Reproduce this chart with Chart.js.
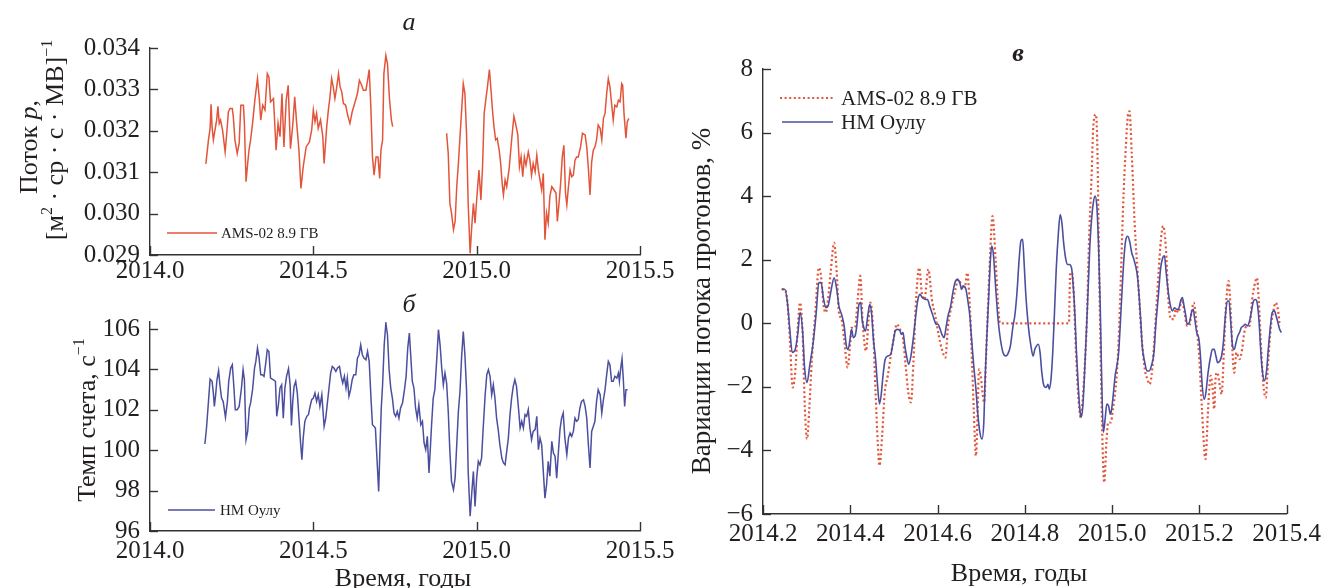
<!DOCTYPE html>
<html>
<head>
<meta charset="utf-8">
<script src="https://cdn.jsdelivr.net/npm/chart.js@4.4.1/dist/chart.umd.min.js"></script>
<style>
  body { margin: 0; background: #fff; width: 1326px; height: 588px; position: relative; overflow: hidden; }
  canvas { position: absolute; }
  #chartA { left: 0; top: 0; }
  #chartB { left: 0; top: 290px; }
  #chartC { left: 680px; top: 0; }
</style>
</head>
<body>
<canvas id="chartA" width="680" height="290"></canvas>
<canvas id="chartB" width="680" height="298"></canvas>
<canvas id="chartC" width="646" height="588"></canvas>
<script>
// tick labels
const yearTicksLeft = [2014.0, 2014.5, 2015.0, 2015.5];
const fluxTicks = [0.029, 0.030, 0.031, 0.032, 0.033, 0.034];
const rateTicks = [96, 98, 100, 102, 104, 106];
const yearTicksRight = [2014.2, 2014.4, 2014.6, 2014.8, 2015.0, 2015.2, 2015.4];
const variationTicks = [-6, -4, -2, 0, 2, 4, 6, 8];

// а: AMS-02 8.9 ГВ proton flux (null = no data)
const fluxYears = [
  2014.171, 2014.179, 2014.184, 2014.187, 2014.190, 2014.194, 2014.199, 2014.204, 2014.208, 2014.212,
  2014.216, 2014.222, 2014.230, 2014.235, 2014.240, 2014.245, 2014.252, 2014.255, 2014.260, 2014.267,
  2014.273, 2014.278, 2014.286, 2014.289, 2014.294, 2014.299, 2014.303, 2014.308, 2014.314, 2014.321,
  2014.329, 2014.335, 2014.339, 2014.345, 2014.352, 2014.359, 2014.364, 2014.369, 2014.378, 2014.386,
  2014.392, 2014.398, 2014.404, 2014.410, 2014.417, 2014.423, 2014.430, 2014.437, 2014.443, 2014.449,
  2014.456, 2014.462, 2014.469, 2014.478, 2014.488, 2014.495, 2014.500, 2014.505, 2014.510, 2014.515,
  2014.522, 2014.529, 2014.533, 2014.541, 2014.546, 2014.551, 2014.556, 2014.561, 2014.566, 2014.571,
  2014.577, 2014.582, 2014.587, 2014.592, 2014.599, 2014.605, 2014.612, 2014.619, 2014.628, 2014.635,
  2014.641, 2014.648, 2014.653, 2014.661, 2014.666, 2014.671, 2014.676, 2014.681, 2014.686, 2014.692,
  2014.698, 2014.703, 2014.707, 2014.712, 2014.716, 2014.722, 2014.727, 2014.733, 2014.739, 2014.743,
  2014.830,
  2014.908, 2014.913, 2014.918, 2014.923, 2014.929, 2014.934, 2014.939, 2014.944, 2014.949, 2014.954,
  2014.959, 2014.964, 2014.969, 2014.974, 2014.980, 2014.985, 2014.990, 2014.995, 2015.000, 2015.007,
  2015.013, 2015.018, 2015.023, 2015.029, 2015.033, 2015.039, 2015.044, 2015.048, 2015.053, 2015.058,
  2015.063, 2015.069, 2015.073, 2015.079, 2015.082, 2015.087, 2015.092, 2015.100, 2015.107, 2015.114,
  2015.119, 2015.126, 2015.131, 2015.136, 2015.141, 2015.146, 2015.151, 2015.158, 2015.163, 2015.168,
  2015.173, 2015.179, 2015.184, 2015.189, 2015.194, 2015.199, 2015.204, 2015.209, 2015.214, 2015.219,
  2015.224, 2015.230, 2015.237, 2015.243, 2015.247, 2015.253, 2015.257, 2015.262, 2015.267, 2015.272,
  2015.276, 2015.281, 2015.286, 2015.291, 2015.296, 2015.301, 2015.306, 2015.311, 2015.318, 2015.324,
  2015.332, 2015.337, 2015.342, 2015.347, 2015.352, 2015.357, 2015.362, 2015.367, 2015.372, 2015.378,
  2015.383, 2015.388, 2015.393, 2015.398, 2015.403, 2015.408, 2015.413, 2015.418, 2015.423, 2015.429,
  2015.434, 2015.439, 2015.444, 2015.447, 2015.451, 2015.457, 2015.461, 2015.466
];
const fluxAms = [
  0.03120, 0.03178, 0.03206, 0.03264, 0.03210, 0.03178, 0.03202, 0.03226, 0.03259, 0.03218,
  0.03226, 0.03202, 0.03149, 0.03194, 0.03246, 0.03254, 0.03254, 0.03234, 0.03178, 0.03145,
  0.03170, 0.03262, 0.03262, 0.03218, 0.03077, 0.03121, 0.03153, 0.03178, 0.03218, 0.03274,
  0.03326, 0.03274, 0.03226, 0.03262, 0.03250, 0.03338, 0.03330, 0.03270, 0.03278, 0.03153,
  0.03218, 0.03186, 0.03290, 0.03161, 0.03274, 0.03310, 0.03157, 0.03214, 0.03282, 0.03218,
  0.03153, 0.03061, 0.03113, 0.03161, 0.03173, 0.03202, 0.03250, 0.03222, 0.03242, 0.03206,
  0.03226, 0.03186, 0.03121, 0.03210, 0.03250, 0.03282, 0.03326, 0.03306, 0.03278, 0.03302,
  0.03338, 0.03306, 0.03294, 0.03266, 0.03262, 0.03238, 0.03218, 0.03246, 0.03270, 0.03290,
  0.03322, 0.03310, 0.03298, 0.03298, 0.03322, 0.03348, 0.03258, 0.03137, 0.03093, 0.03137,
  0.03137, 0.03085, 0.03153, 0.03178, 0.03338, 0.03382, 0.03362, 0.03278, 0.03226, 0.03210,
  null,
  0.03194, 0.03145, 0.03025, 0.03001, 0.02961, 0.02981, 0.03065, 0.03121, 0.03186, 0.03250,
  0.03314, 0.03290, 0.03194, 0.03025, 0.02904, 0.02969, 0.03025, 0.02977, 0.03033, 0.03105,
  0.03033, 0.03113, 0.03242, 0.03282, 0.03306, 0.03348, 0.03298, 0.03254, 0.03210, 0.03178,
  0.03182, 0.03153, 0.03125, 0.03065, 0.03045, 0.03081, 0.03065, 0.03113, 0.03178, 0.03235,
  0.03218, 0.03190, 0.03113, 0.03137, 0.03089, 0.03137, 0.03117, 0.03149, 0.03129, 0.03093,
  0.03121, 0.03101, 0.03141, 0.03105, 0.03081, 0.03057, 0.03097, 0.02937, 0.03001, 0.02977,
  0.03041, 0.03065, 0.03057, 0.03049, 0.02981, 0.03033, 0.03073, 0.03137, 0.03165, 0.03049,
  0.03021, 0.03065, 0.03105, 0.03089, 0.03093, 0.03129, 0.03137, 0.03137, 0.03161, 0.03194,
  0.03190, 0.03161, 0.03109, 0.03045, 0.03125, 0.03153, 0.03161, 0.03178, 0.03214, 0.03206,
  0.03178, 0.03230, 0.03242, 0.03290, 0.03326, 0.03306, 0.03266, 0.03226, 0.03262, 0.03258,
  0.03274, 0.03270, 0.03314, 0.03310, 0.03242, 0.03182, 0.03222, 0.03230
];

// б: НМ Оулу count rate, 1/s
const rateYears = [
  2014.168, 2014.173, 2014.179, 2014.184, 2014.190, 2014.194, 2014.197, 2014.201, 2014.205, 2014.210,
  2014.214, 2014.219, 2014.224, 2014.231, 2014.237, 2014.241, 2014.247, 2014.252, 2014.257, 2014.261,
  2014.267, 2014.273, 2014.280, 2014.285, 2014.289, 2014.294, 2014.299, 2014.304, 2014.308, 2014.314,
  2014.320, 2014.324, 2014.329, 2014.334, 2014.339, 2014.344, 2014.349, 2014.355, 2014.359, 2014.364,
  2014.369, 2014.378, 2014.384, 2014.388, 2014.393, 2014.398, 2014.403, 2014.408, 2014.413, 2014.418,
  2014.424, 2014.429, 2014.433, 2014.437, 2014.441, 2014.446, 2014.451, 2014.456, 2014.461, 2014.465,
  2014.469, 2014.474, 2014.480, 2014.485, 2014.490, 2014.495, 2014.500, 2014.505, 2014.510, 2014.515,
  2014.520, 2014.526, 2014.533, 2014.538, 2014.543, 2014.548, 2014.553, 2014.558, 2014.563, 2014.569,
  2014.574, 2014.580, 2014.585, 2014.590, 2014.595, 2014.600, 2014.604, 2014.609, 2014.614, 2014.619,
  2014.624, 2014.630, 2014.635, 2014.640, 2014.645, 2014.650, 2014.655, 2014.661, 2014.666, 2014.671,
  2014.677, 2014.681, 2014.686, 2014.690, 2014.695, 2014.700, 2014.704, 2014.708, 2014.712, 2014.717,
  2014.722, 2014.727, 2014.732, 2014.737, 2014.742, 2014.747, 2014.752, 2014.757, 2014.762, 2014.767,
  2014.773, 2014.779, 2014.784, 2014.789, 2014.794, 2014.798, 2014.803, 2014.808, 2014.813, 2014.818,
  2014.823, 2014.829, 2014.834, 2014.839, 2014.844, 2014.849, 2014.854, 2014.858, 2014.862, 2014.867,
  2014.872, 2014.878, 2014.883, 2014.888, 2014.893, 2014.898, 2014.903, 2014.908, 2014.913, 2014.918,
  2014.923, 2014.929, 2014.934, 2014.939, 2014.944, 2014.949, 2014.954, 2014.959, 2014.964, 2014.969,
  2014.974, 2014.980, 2014.985, 2014.990, 2014.995, 2015.000, 2015.005, 2015.010, 2015.015, 2015.020,
  2015.026, 2015.031, 2015.036, 2015.041, 2015.046, 2015.051, 2015.056, 2015.061, 2015.066, 2015.071,
  2015.077, 2015.082, 2015.087, 2015.092, 2015.097, 2015.102, 2015.107, 2015.112, 2015.117, 2015.122,
  2015.128, 2015.133, 2015.138, 2015.143, 2015.148, 2015.153, 2015.158, 2015.163, 2015.168, 2015.173,
  2015.179, 2015.184, 2015.189, 2015.194, 2015.199, 2015.204, 2015.209, 2015.214, 2015.219, 2015.224,
  2015.230, 2015.235, 2015.240, 2015.245, 2015.250, 2015.255, 2015.260, 2015.265, 2015.270, 2015.276,
  2015.281, 2015.286, 2015.291, 2015.296, 2015.301, 2015.306, 2015.311, 2015.316, 2015.321, 2015.327,
  2015.332, 2015.337, 2015.342, 2015.347, 2015.352, 2015.357, 2015.362, 2015.367, 2015.372, 2015.378,
  2015.383, 2015.388, 2015.393, 2015.398, 2015.403, 2015.408, 2015.413, 2015.418, 2015.423, 2015.429,
  2015.434, 2015.437, 2015.441, 2015.445, 2015.449, 2015.453, 2015.457, 2015.462
];
const rateOulu = [
  100.31, 101.10, 102.42, 103.52, 103.41, 102.83, 102.17, 102.75, 103.49, 103.94,
  103.24, 102.58, 102.42, 101.63, 102.42, 103.41, 104.07, 104.23, 103.08, 102.01,
  102.01, 102.17, 103.08, 103.99, 103.49, 100.52, 100.93, 102.09, 102.34, 103.00,
  104.07, 104.40, 105.06, 104.56, 103.74, 103.74, 103.66, 104.40, 104.98, 104.89,
  103.57, 103.49, 103.41, 101.68, 102.25, 103.08, 103.24, 101.59, 103.08, 103.66,
  104.04, 103.24, 101.23, 102.42, 103.16, 103.41, 102.83, 101.59, 100.36, 99.53,
  100.60, 101.43, 101.68, 101.76, 102.17, 102.50, 102.58, 102.83, 102.42, 102.75,
  102.17, 102.75, 101.18, 101.59, 102.34, 103.08, 103.82, 104.15, 104.07, 103.90,
  104.07, 104.15, 103.66, 103.33, 103.66, 103.08, 103.57, 102.67, 103.00, 103.49,
  103.74, 103.74, 104.56, 104.73, 105.22, 104.73, 104.56, 104.48, 104.89, 104.40,
  102.42, 101.26, 101.18, 101.10, 99.53, 97.96, 100.11, 102.09, 103.24, 105.22,
  106.30, 105.72, 103.99, 103.08, 102.58, 101.84, 101.68, 101.92, 101.59, 102.09,
  102.34, 103.00, 103.66, 105.06, 105.80, 104.73, 103.41, 103.08, 102.09, 101.59,
  102.25, 101.26, 101.43, 100.36, 100.03, 100.69, 98.87, 100.03, 101.26, 102.58,
  103.00, 104.56, 105.97, 105.22, 104.07, 103.24, 103.82, 103.33, 101.92, 99.94,
  98.46, 98.05, 98.62, 100.27, 101.92, 102.91, 104.65, 105.88, 104.73, 103.00,
  98.95, 96.73, 97.88, 98.95, 97.22, 98.62, 99.45, 99.28, 99.61, 101.10,
  102.75, 103.74, 103.99, 103.66, 102.75, 103.24, 102.58, 101.59, 101.02, 100.27,
  99.61, 99.37, 99.28, 99.94, 100.60, 101.76, 102.58, 103.16, 103.49, 103.16,
  102.09, 101.10, 101.43, 101.10, 101.76, 101.68, 102.01, 101.10, 100.52, 100.93,
  101.02, 101.68, 100.03, 100.60, 100.27, 98.95, 97.63, 98.29, 99.45, 98.71,
  100.44, 99.86, 99.70, 98.62, 99.86, 101.02, 101.59, 101.84, 100.60, 99.78,
  100.60, 100.85, 100.69, 100.93, 101.59, 101.43, 101.51, 102.09, 102.42, 102.50,
  102.17, 101.59, 100.27, 99.12, 100.93, 101.18, 101.43, 102.42, 103.00, 102.75,
  101.84, 102.50, 103.00, 103.74, 104.40, 104.23, 103.41, 103.41, 103.66, 103.57,
  103.82, 103.41, 104.07, 104.53, 103.49, 102.17, 103.00, 103.00
];

// в: variations of proton flux, %
const varYearsOulu = [
  2014.243, 2014.250, 2014.256, 2014.262, 2014.267, 2014.274, 2014.280, 2014.285, 2014.291, 2014.295,
  2014.301, 2014.307, 2014.315, 2014.322, 2014.328, 2014.333, 2014.339, 2014.344, 2014.349, 2014.355,
  2014.363, 2014.369, 2014.374, 2014.380, 2014.386, 2014.391, 2014.395, 2014.400, 2014.403, 2014.407,
  2014.411, 2014.415, 2014.420, 2014.424, 2014.427, 2014.431, 2014.435, 2014.440, 2014.445, 2014.449,
  2014.453, 2014.458, 2014.462, 2014.467, 2014.471, 2014.475, 2014.480, 2014.486, 2014.493, 2014.498,
  2014.503, 2014.508, 2014.514, 2014.517, 2014.521, 2014.525, 2014.529, 2014.534, 2014.539, 2014.545,
  2014.550, 2014.555, 2014.560, 2014.565, 2014.572, 2014.577, 2014.582, 2014.587, 2014.592, 2014.597,
  2014.601, 2014.606, 2014.610, 2014.615, 2014.620, 2014.624, 2014.630, 2014.635, 2014.640, 2014.645,
  2014.651, 2014.655, 2014.660, 2014.665, 2014.669, 2014.674, 2014.678, 2014.683, 2014.688, 2014.692,
  2014.697, 2014.702, 2014.706, 2014.709, 2014.713, 2014.717, 2014.720, 2014.724, 2014.728, 2014.733,
  2014.738, 2014.743, 2014.750, 2014.756, 2014.761, 2014.767, 2014.773, 2014.777, 2014.782, 2014.787,
  2014.791, 2014.795, 2014.798, 2014.802, 2014.808, 2014.814, 2014.819, 2014.823, 2014.827, 2014.831,
  2014.835, 2014.839, 2014.844, 2014.849, 2014.853, 2014.856, 2014.860, 2014.864, 2014.868, 2014.872,
  2014.877, 2014.881, 2014.885, 2014.889, 2014.894, 2014.898, 2014.902, 2014.907, 2014.911, 2014.915,
  2014.918, 2014.922, 2014.926, 2014.929, 2014.933, 2014.937, 2014.942, 2014.946, 2014.949, 2014.953,
  2014.957, 2014.961, 2014.965, 2014.969, 2014.973, 2014.976, 2014.980, 2014.984, 2014.988, 2014.992,
  2014.996, 2014.999, 2015.004, 2015.007, 2015.011, 2015.015, 2015.019, 2015.023, 2015.027, 2015.031,
  2015.036, 2015.041, 2015.045, 2015.050, 2015.054, 2015.058, 2015.062, 2015.066, 2015.069, 2015.075,
  2015.080, 2015.085, 2015.090, 2015.096, 2015.100, 2015.106, 2015.111, 2015.116, 2015.120, 2015.124,
  2015.129, 2015.134, 2015.138, 2015.143, 2015.148, 2015.152, 2015.157, 2015.161, 2015.165, 2015.169,
  2015.172, 2015.177, 2015.182, 2015.186, 2015.189, 2015.194, 2015.199, 2015.203, 2015.206, 2015.211,
  2015.215, 2015.220, 2015.226, 2015.230, 2015.234, 2015.238, 2015.242, 2015.247, 2015.251, 2015.255,
  2015.259, 2015.264, 2015.268, 2015.272, 2015.276, 2015.280, 2015.284, 2015.288, 2015.292, 2015.296,
  2015.301, 2015.305, 2015.310, 2015.315, 2015.319, 2015.324, 2015.329, 2015.333, 2015.337, 2015.340,
  2015.344, 2015.349, 2015.354, 2015.358, 2015.363, 2015.367, 2015.372, 2015.376, 2015.380, 2015.384,
  2015.388
];
const varOulu = [
  1.07, 1.07, 0.65, -0.29, -0.92, -0.82, -0.29, 0.34, -0.29, -1.34,
  -1.86, -1.34, -0.61, 0.34, 1.28, 1.28, 0.75, 0.49, 0.54, 0.96,
  1.43, 1.07, 0.54, 0.28, -0.08, -0.71, -0.82, -0.45, -0.19, -0.45,
  -0.40, -0.08, 0.60, 0.65, 0.13, -0.14, -0.24, 0.23, 0.60, 0.28,
  -0.50, -1.13, -1.86, -2.54, -2.23, -1.65, -1.13, -1.03, -0.97, -0.61,
  -0.24, -0.19, -0.24, -0.35, -0.29, -0.71, -1.03, -1.29, -1.03, -0.40,
  0.23, 0.75, 0.91, 0.81, 0.75, 0.75, 0.54, 0.34, 0.13, -0.03,
  -0.03, -0.19, -0.35, -0.45, -0.08, 0.23, 0.54, 0.96, 1.28, 1.38,
  1.28, 1.07, 1.17, 1.07, 0.75, 0.23, -0.50, -1.34, -2.07, -2.81,
  -3.43, -3.64, -3.12, -1.76, -0.40, 0.75, 1.70, 2.43, 2.17, 1.17,
  0.23, -0.40, -0.92, -1.03, -0.97, -0.71, -0.08, 0.23, 0.96, 2.01,
  2.59, 2.64, 2.01, 0.96, -0.08, -0.71, -1.03, -0.82, -0.71, -0.66,
  -0.92, -1.55, -1.97, -2.02, -1.92, -2.07, -1.76, -0.92, 0.34, 1.70,
  2.85, 3.42, 3.16, 2.53, 2.01, 1.85, 1.85, 1.75, 1.17, 0.23,
  -0.82, -1.86, -2.70, -2.96, -2.60, -1.55, 0.02, 1.38, 2.43, 3.27,
  3.79, 4.00, 3.69, 2.43, 0.44, -1.65, -3.43, -3.02, -2.54, -2.60,
  -2.86, -2.70, -2.07, -1.65, -1.34, -0.92, 0.02, 1.07, 2.01, 2.59,
  2.74, 2.53, 2.22, 2.01, 1.80, 1.49, 0.86, 0.02, -0.71, -1.24,
  -1.50, -1.50, -1.34, -0.92, -0.08, 0.86, 1.70, 2.06, 2.12, 1.59,
  0.96, 0.54, 0.39, 0.49, 0.44, 0.44, 0.70, 0.81, 0.54, 0.23,
  -0.03, 0.02, 0.34, 0.44, 0.18, -0.29, -0.50, -1.13, -1.86, -2.39,
  -2.18, -1.55, -1.03, -0.82, -0.82, -1.03, -1.24, -1.18, -1.03, -0.61,
  0.13, 0.70, 0.70, 0.02, -0.71, -0.82, -0.61, -0.40, -0.29, -0.14,
  -0.08, -0.03, -0.08, 0.07, 0.34, 0.70, 0.75, 0.60, 0.02, -0.71,
  -1.45, -1.81, -1.50, -0.82, -0.08, 0.34, 0.39, 0.23, 0.02, -0.19,
  -0.29
];
const varYearsAms = [
  2014.243, 2014.250, 2014.256, 2014.262, 2014.268, 2014.274, 2014.280, 2014.285, 2014.291, 2014.296,
  2014.301, 2014.306, 2014.312, 2014.320, 2014.328, 2014.333, 2014.339, 2014.344, 2014.349, 2014.355,
  2014.363, 2014.369, 2014.374, 2014.380, 2014.386, 2014.394, 2014.400, 2014.403, 2014.411, 2014.417,
  2014.423, 2014.428, 2014.436, 2014.442, 2014.446, 2014.452, 2014.458, 2014.463, 2014.467, 2014.473,
  2014.479, 2014.486, 2014.494, 2014.502, 2014.506, 2014.514, 2014.521, 2014.527, 2014.533, 2014.539,
  2014.545, 2014.550, 2014.558, 2014.564, 2014.570, 2014.579, 2014.587, 2014.595, 2014.603, 2014.610,
  2014.618, 2014.624, 2014.632, 2014.641, 2014.647, 2014.657, 2014.663, 2014.668, 2014.674, 2014.678,
  2014.683, 2014.688, 2014.692, 2014.695, 2014.699, 2014.703, 2014.707, 2014.711, 2014.715, 2014.720,
  2014.726, 2014.733, 2014.738, 2014.743, 2014.901, 2014.904, 2014.908, 2014.912, 2014.917, 2014.922,
  2014.928, 2014.932, 2014.937, 2014.942, 2014.947, 2014.953, 2014.957, 2014.963, 2014.966, 2014.970,
  2014.974, 2014.978, 2014.982, 2014.987, 2014.991, 2014.997, 2015.002, 2015.007, 2015.013, 2015.019,
  2015.025, 2015.032, 2015.036, 2015.040, 2015.045, 2015.052, 2015.059, 2015.067, 2015.075, 2015.081,
  2015.086, 2015.092, 2015.098, 2015.106, 2015.112, 2015.117, 2015.123, 2015.129, 2015.135, 2015.141,
  2015.146, 2015.152, 2015.160, 2015.166, 2015.172, 2015.177, 2015.182, 2015.187, 2015.195, 2015.200,
  2015.206, 2015.214, 2015.220, 2015.226, 2015.230, 2015.234, 2015.237, 2015.241, 2015.247, 2015.251,
  2015.257, 2015.262, 2015.267, 2015.272, 2015.276, 2015.280, 2015.285, 2015.292, 2015.298, 2015.303,
  2015.309, 2015.315, 2015.321, 2015.326, 2015.332, 2015.336, 2015.342, 2015.347, 2015.352, 2015.357,
  2015.364, 2015.369, 2015.375, 2015.381, 2015.384
];
const varAms = [
  1.07, 1.07, 0.65, -0.61, -2.02, -1.50, -0.08, 0.65, -0.40, -2.70,
  -3.64, -2.70, -1.13, 0.34, 1.75, 1.49, 0.54, 0.34, 0.75, 1.59,
  2.53, 1.59, 0.34, 0.13, -0.50, -1.39, -0.61, -0.14, -0.14, 0.75,
  1.49, 0.13, -0.87, 0.13, 0.65, -0.08, -2.18, -3.75, -4.48, -3.54,
  -2.18, -1.65, -0.92, -0.29, -0.03, -0.19, -0.50, -1.34, -2.18, -2.49,
  -1.13, 0.54, 1.75, 0.96, 0.75, 1.70, 0.75, 0.23, -0.40, -0.82,
  -1.08, -0.08, 0.54, 1.07, 1.38, 1.17, 1.17, 1.59, 0.54, -0.82,
  -2.70, -4.17, -2.70, -1.45, -1.65, -2.18, -2.49, -1.13, 0.34, 2.01,
  3.37, 2.01, 0.75, 0.00, 0.00, 1.59, 1.59, 0.96, -0.82, -2.18,
  -2.96, -2.49, -1.45, 0.02, 2.53, 4.63, 6.20, 6.57, 5.68, 2.01,
  -1.13, -3.75, -5.01, -3.75, -3.12, -3.12, -2.70, -2.18, -1.13, 0.96,
  3.58, 5.68, 6.51, 6.67, 5.36, 3.06, 1.49, -0.29, -1.45, -1.76,
  -1.92, -1.45, -0.29, 1.49, 2.64, 3.06, 2.43, 0.75, 0.13, 0.13,
  0.44, 0.34, 0.75, 0.34, -0.08, -0.08, 0.34, 0.65, -0.29, -1.13,
  -2.70, -4.27, -2.70, -1.65, -1.97, -2.70, -1.76, -1.55, -1.97, -2.23,
  -0.61, 0.75, 1.33, 0.34, -0.92, -1.55, -0.92, -1.13, -0.82, -0.29,
  -0.08, -0.08, 0.75, 1.17, 1.43, 0.75, -0.92, -1.97, -2.34, -1.34,
  -0.08, 0.34, 0.65, 0.34, -0.08
];

const serif = "'Liberation Serif', 'DejaVu Serif', serif";
const ink = '#231f20';
const axisInk = '#333333';
const redLine = '#e2553a';
const blueLine = '#4b4f9e';

const pts = (xs, ys) => xs.map((x, i) => ({ x: x, y: ys[i] }));

// text with italic / superscript pieces, centred on (x, y)
function richText(ctx, parts, x, y, size, vertical) {
  const fontFor = p => (p[1] === 'italic' ? 'italic ' : p[1] === 'bolditalic' ? 'italic bold ' : '') +
    (p[1] === 'sup' ? Math.round(size * 0.62) : size) + 'px ' + serif;
  let total = 0;
  parts.forEach(p => { ctx.font = fontFor(p); total += ctx.measureText(p[0]).width; });
  ctx.save();
  ctx.translate(x, y);
  if (vertical) ctx.rotate(-Math.PI / 2);
  ctx.fillStyle = ink;
  ctx.textBaseline = 'alphabetic';
  ctx.textAlign = 'left';
  let pos = -total / 2;
  parts.forEach(p => {
    ctx.font = fontFor(p);
    const dy = p[1] === 'sup' ? size * 0.33 - size * 0.42 : size * 0.33;
    ctx.fillText(p[0], pos, dy);
    pos += ctx.measureText(p[0]).width;
  });
  ctx.restore();
}

// inward ticks, texts and in-plot legend
function decor(spec) {
  return {
    id: 'decor',
    afterDraw(chart) {
      const ctx = chart.ctx;
      const area = chart.chartArea;
      const sx = chart.scales.x, sy = chart.scales.y;
      ctx.save();
      ctx.strokeStyle = axisInk;
      ctx.lineWidth = 1.4;
      sx.ticks.forEach(t => {
        const px = Math.round(sx.getPixelForValue(t.value)) + 0.5;
        ctx.beginPath(); ctx.moveTo(px, area.bottom); ctx.lineTo(px, area.bottom - 9); ctx.stroke();
      });
      sy.ticks.forEach(t => {
        const py = Math.round(sy.getPixelForValue(t.value)) + 0.5;
        ctx.beginPath(); ctx.moveTo(area.left, py); ctx.lineTo(area.left + 8, py); ctx.stroke();
      });
      spec.texts.forEach(t => richText(ctx, t.parts, t.x, t.y, t.size, t.vertical));
      spec.legend.forEach(item => {
        const ds = chart.data.datasets[item.ds];
        ctx.strokeStyle = ds.borderColor;
        ctx.lineWidth = ds.borderWidth;
        ctx.setLineDash(ds.borderDash || []);
        ctx.beginPath(); ctx.moveTo(item.x1, item.y); ctx.lineTo(item.x2, item.y); ctx.stroke();
        ctx.setLineDash([]);
        ctx.fillStyle = ink;
        ctx.font = item.size + 'px ' + serif;
        ctx.textBaseline = 'middle';
        ctx.textAlign = 'left';
        ctx.fillText(ds.label, item.tx, item.y + 1);
      });
      ctx.restore();
    }
  };
}

function makeChart(id, datasets, g) {
  return new Chart(document.getElementById(id), {
    type: 'line',
    data: { datasets: datasets },
    options: {
      responsive: false,
      animation: false,
      devicePixelRatio: 1,
      layout: { padding: g.padding },
      elements: { point: { radius: 0 }, line: { tension: 0 } },
      plugins: { legend: { display: false }, tooltip: { enabled: false } },
      scales: {
        x: {
          type: 'linear', min: g.xMin, max: g.xMax,
          afterBuildTicks: s => { s.ticks = g.xTicks.map(v => ({ value: v })); },
          afterFit: s => { s.height = g.xHeight; },
          grid: { display: false, drawTicks: false },
          border: { display: true, color: axisInk, width: 1.4 },
          ticks: {
            autoSkip: false, maxRotation: 0, padding: g.xPad, color: ink,
            font: { family: serif, size: 25, lineHeight: 1.2 },
            callback: g.xFmt
          }
        },
        y: {
          type: 'linear', min: g.yMin, max: g.yMax,
          afterBuildTicks: s => { s.ticks = g.yTicks.map(v => ({ value: v })); },
          afterFit: s => { s.width = g.yWidth; },
          grid: { display: false, drawTicks: false },
          border: { display: true, color: axisInk, width: 1.4 },
          ticks: {
            autoSkip: false, padding: 10, color: ink,
            font: { family: serif, size: 25, lineHeight: 1.2 },
            callback: g.yFmt
          }
        }
      }
    },
    plugins: [decor(g.decor)]
  });
}

const yearFmt = v => v.toFixed(1);
const minusFmt = v => (v < 0 ? '\u2212' + Math.abs(v) : String(v));

makeChart('chartA', [{
  label: 'AMS-02 8.9 ГВ', data: pts(fluxYears, fluxAms),
  borderColor: redLine, borderWidth: 1.5, spanGaps: false
}], {
  padding: { top: 48, right: 40, bottom: 0, left: 0 },
  xMin: 2014.0, xMax: 2015.5, xTicks: yearTicksLeft, xFmt: yearFmt, xHeight: 35, xPad: 1,
  yMin: 0.029, yMax: 0.034, yTicks: fluxTicks, yFmt: v => v.toFixed(3), yWidth: 150,
  decor: {
    texts: [
      { parts: [['а', 'italic']], x: 409, y: 21, size: 26 },
      { parts: [['Поток ', ''], ['p', 'italic'], [',', '']], x: 28, y: 147, size: 26, vertical: true },
      { parts: [['[м', ''], ['2', 'sup'], [' · ср · с · МВ]', ''], ['\u22121', 'sup']], x: 54, y: 140, size: 26, vertical: true }
    ],
    legend: [{ ds: 0, x1: 167, x2: 217, y: 233, tx: 221, size: 15 }]
  }
});

makeChart('chartB', [{
  label: 'НМ Оулу', data: pts(rateYears, rateOulu),
  borderColor: blueLine, borderWidth: 1.5
}], {
  padding: { top: 32, right: 40, bottom: 0, left: 0 },
  xMin: 2014.0, xMax: 2015.5, xTicks: yearTicksLeft, xFmt: yearFmt, xHeight: 57, xPad: 5,
  yMin: 96, yMax: 106.35, yTicks: rateTicks, yFmt: v => String(v), yWidth: 150,
  decor: {
    texts: [
      { parts: [['б', 'italic']], x: 409, y: 13, size: 26 },
      { parts: [['Темп счета, с', ''], ['\u22121', 'sup']], x: 86, y: 130, size: 26, vertical: true },
      { parts: [['Время, годы', '']], x: 403, y: 287, size: 26 }
    ],
    legend: [{ ds: 0, x1: 168, x2: 215, y: 220, tx: 220, size: 15 }]
  }
});

makeChart('chartC', [{
  label: 'AMS-02 8.9 ГВ', data: pts(varYearsAms, varAms),
  borderColor: redLine, borderWidth: 2.2, borderDash: [2, 2.6], order: 2,
  cubicInterpolationMode: 'monotone'
}, {
  label: 'НМ Оулу', data: pts(varYearsOulu, varOulu),
  borderColor: blueLine, borderWidth: 1.6, order: 1,
  cubicInterpolationMode: 'monotone'
}], {
  padding: { top: 69, right: 38, bottom: 0, left: 0 },
  xMin: 2014.2, xMax: 2015.4, xTicks: yearTicksRight, xFmt: yearFmt, xHeight: 74, xPad: 5,
  yMin: -6, yMax: 8, yTicks: variationTicks, yFmt: minusFmt, yWidth: 83,
  decor: {
    texts: [
      { parts: [['в', 'bolditalic']], x: 338, y: 52, size: 26 },
      { parts: [['Вариации потока протонов, %', '']], x: 21, y: 301, size: 27, vertical: true },
      { parts: [['Время, годы', '']], x: 339, y: 572, size: 26 }
    ],
    legend: [
      { ds: 0, x1: 100, x2: 153, y: 98, tx: 161, size: 21 },
      { ds: 1, x1: 102, x2: 153, y: 122, tx: 161, size: 21 }
    ]
  }
});
</script>
</body>
</html>
